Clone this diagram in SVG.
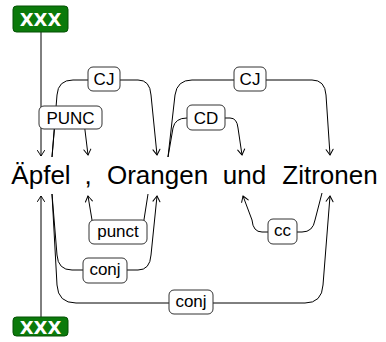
<svg xmlns="http://www.w3.org/2000/svg" width="386" height="342" viewBox="0 0 386 342">
<style>
.word{font-family:"Liberation Sans",Arial,sans-serif;font-size:26px;fill:#000;text-anchor:middle}
.edge{fill:none;stroke:#000;stroke-width:1;marker-end:url(#arr)}
.lbox{fill:#fff;stroke:#333;stroke-width:1}
.ltext{font-family:"Liberation Sans",Arial,sans-serif;font-size:17px;fill:#000;text-anchor:middle;dominant-baseline:central}
.xbox{fill:#0b7a0b;stroke:#045004;stroke-width:1}
.xtext{font-family:"DejaVu Sans",sans-serif;font-weight:bold;font-size:18px;fill:#fff;text-anchor:middle;dominant-baseline:central}
</style>
<defs>
<marker id="arr" markerUnits="userSpaceOnUse" markerWidth="10" markerHeight="10" refX="0" refY="0" orient="auto" overflow="visible">
<path d="M-5.5,-3.5 Q-1.5,-1 0,0 Q-1.5,1 -5.5,3.5" fill="none" stroke="#000" stroke-width="1" stroke-linecap="round"/>
</marker>
</defs>
<g id="connectors">
<path class="edge" d="M41,32 L41,156"/>
<path class="edge" d="M41,317 L41,196"/>
<path class="edge" d="M52,157 L57,95 Q58,80 73,80 L138,80 Q150,80 151,95 L157,155"/>
<path class="edge" d="M52,157 L55,122 Q55,117 60,117 L80,117 Q83,117 84,122 L88,155"/>
<path class="edge" d="M168,157 L175,95 Q177,80 192,80 L312,80 Q325,80 326,95 L330,155"/>
<path class="edge" d="M168,157 L173,128 Q175,118 187,118 L230,118 Q237,118 238,128 L242,155"/>
<path class="edge" d="M148,194 L143,226 L93,226 L88,196"/>
<path class="edge" d="M52,194 L57,255 Q58,270 72,270 L138,270 Q150,270 151,255 L157,196"/>
<path class="edge" d="M52,194 L57,285 Q58,303 76,303 L305,303 Q322,303 323,285 L330,196"/>
<path class="edge" d="M322,193 L315,220 Q313,232 302,232 L262,232 Q253,232 252,220 L243,196"/>
<g id="lbl-cj1"><rect class="lbox" x="88" y="67" width="32" height="24" rx="5"/><text class="ltext" x="104" y="79.5">CJ</text></g>
<g id="lbl-punc"><rect class="lbox" x="39" y="106" width="63" height="23" rx="5"/><text class="ltext" x="70.5" y="118">PUNC</text></g>
<g id="lbl-cj2"><rect class="lbox" x="234" y="67" width="32" height="24" rx="5"/><text class="ltext" x="250" y="79.5">CJ</text></g>
<g id="lbl-cd"><rect class="lbox" x="187" y="105" width="38" height="25" rx="5"/><text class="ltext" x="206" y="118">CD</text></g>
<g id="lbl-punct"><rect class="lbox" x="89" y="220" width="58" height="24" rx="5"/><text class="ltext" x="118" y="231">punct</text></g>
<g id="lbl-conj1"><rect class="lbox" x="83" y="258" width="44" height="25" rx="5"/><text class="ltext" x="105" y="269">conj</text></g>
<g id="lbl-conj2"><rect class="lbox" x="169" y="290" width="44" height="24" rx="5"/><text class="ltext" x="191" y="301">conj</text></g>
<g id="lbl-cc"><rect class="lbox" x="268" y="219" width="29" height="25" rx="5"/><text class="ltext" x="282.5" y="230.5">cc</text></g>
</g>
<g id="node-xxx-top"><rect class="xbox" x="13" y="6" width="55" height="26" rx="3.5"/><text class="xtext" x="40.5" y="19.5">XXX</text></g>
<g id="node-xxx-bottom"><rect class="xbox" x="13" y="317" width="55" height="19" rx="3.5"/><text class="xtext" x="40.5" y="327">XXX</text></g>
<g id="node-aepfel"><text class="word" x="41" y="184">Äpfel</text></g>
<g id="node-comma"><text class="word" x="88" y="184">,</text></g>
<g id="node-orangen"><text class="word" x="157.5" y="184">Orangen</text></g>
<g id="node-und"><text class="word" x="244.5" y="184">und</text></g>
<g id="node-zitronen"><text class="word" x="330" y="184">Zitronen</text></g>
</svg>
